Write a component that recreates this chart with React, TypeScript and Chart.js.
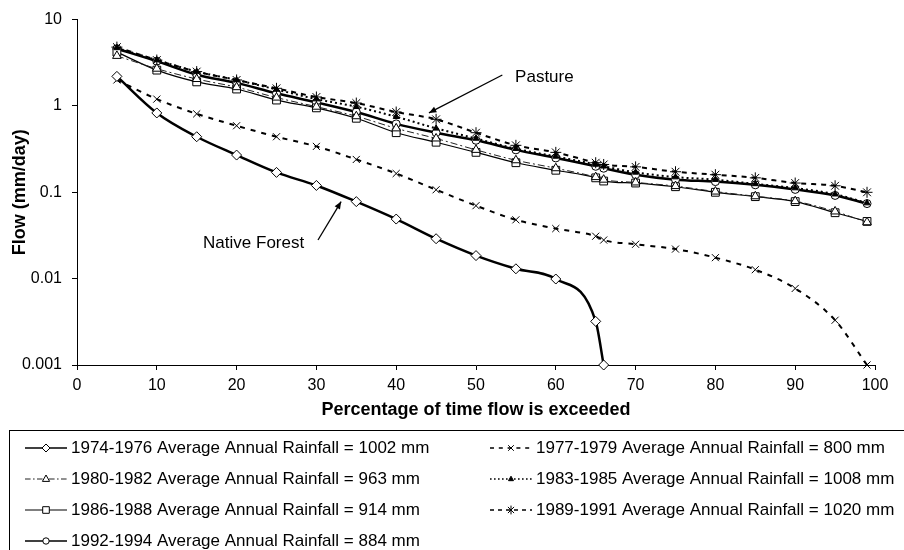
import React, { useEffect, useRef } from 'react';
import { Chart, registerables } from 'chart.js';

Chart.register(...registerables);

// Percentage of time flow is exceeded (x positions of the duration-curve points)
const percentExceeded = [5, 10, 15, 20, 25, 30, 35, 40, 45, 50, 55, 60, 65, 66, 70, 75, 80, 85, 90, 95, 99];

// Flow (mm/day) for each period
const flow1974 = [2.2, 0.83, 0.44, 0.27, 0.17, 0.12, 0.078, 0.049, 0.029, 0.0185, 0.013, 0.0099, 0.0032, 0.001];
const flow1977 = [2.0, 1.2, 0.81, 0.59, 0.44, 0.34, 0.24, 0.165, 0.107, 0.07, 0.048, 0.038, 0.031, 0.028, 0.025, 0.022, 0.0175, 0.0127, 0.0077, 0.0033, 0.001];
const flow1980 = [3.8, 2.7, 2.05, 1.65, 1.25, 0.98, 0.76, 0.55, 0.42, 0.31, 0.235, 0.19, 0.15, 0.14, 0.13, 0.118, 0.102, 0.09, 0.079, 0.06, 0.045];
const flow1983 = [4.7, 3.4, 2.5, 2.0, 1.55, 1.2, 0.98, 0.75, 0.55, 0.42, 0.32, 0.26, 0.21, 0.2, 0.17, 0.15, 0.14, 0.125, 0.112, 0.095, 0.075];
const flow1986 = [4.2, 2.6, 1.9, 1.57, 1.17, 0.95, 0.72, 0.49, 0.38, 0.29, 0.22, 0.18, 0.147, 0.135, 0.128, 0.116, 0.1, 0.089, 0.078, 0.058, 0.046];
const flow1989 = [4.8, 3.4, 2.5, 2.0, 1.6, 1.27, 1.08, 0.85, 0.7, 0.49, 0.35, 0.29, 0.22, 0.21, 0.197, 0.173, 0.16, 0.147, 0.128, 0.119, 0.1];
const flow1992 = [4.6, 3.3, 2.3, 1.85, 1.4, 1.1, 0.85, 0.62, 0.49, 0.4, 0.31, 0.25, 0.2, 0.19, 0.16, 0.14, 0.133, 0.122, 0.108, 0.092, 0.074];

const seriesLabels = [
  '1974-1976 Average Annual Rainfall = 1002 mm',
  '1977-1979 Average Annual Rainfall = 800 mm',
  '1980-1982 Average Annual Rainfall = 963 mm',
  '1983-1985 Average Annual Rainfall = 1008 mm',
  '1986-1988 Average Annual Rainfall = 914 mm',
  '1989-1991 Average Annual Rainfall = 1020 mm',
  '1992-1994 Average Annual Rainfall = 884 mm',
];
const seriesValues = [flow1974, flow1977, flow1980, flow1983, flow1986, flow1989, flow1992];

const yTickValues = [0.001, 0.01, 0.1, 1, 10];
const yTickLabels = ['0.001', '0.01', '0.1', '1', '10'];

const FONT = "'Liberation Sans', Arial, Helvetica, sans-serif";

type Style = { lw: number; dash: number[]; ps: string; r: number; fill: string; color: string };
const styles: Style[] = [
  { lw: 2.5, dash: [], ps: 'rectRot', r: 5, fill: '#fff', color: '#000' },
  { lw: 2, dash: [5, 6], ps: 'crossRot', r: 5, fill: '#fff', color: '#000' },
  { lw: 1, dash: [7, 3, 2, 3], ps: 'triangle', r: 5, fill: '#fff', color: '#222' },
  { lw: 2, dash: [2, 3], ps: 'triangle', r: 3.5, fill: '#000', color: '#000' },
  { lw: 1.2, dash: [], ps: 'rect', r: 5.5, fill: '#fff', color: '#000' },
  { lw: 2, dash: [5, 5], ps: 'star', r: 5.5, fill: '#fff', color: '#000' },
  { lw: 2.5, dash: [], ps: 'circle', r: 4, fill: '#fff', color: '#000' },
];

function drawMarker(ctx: CanvasRenderingContext2D, ps: string, r: number, x: number, y: number, fill: string) {
  ctx.save();
  ctx.setLineDash([]);
  ctx.lineWidth = 1;
  ctx.strokeStyle = '#000';
  ctx.fillStyle = fill;
  ctx.beginPath();
  if (ps === 'rectRot') {
    ctx.moveTo(x, y - r); ctx.lineTo(x + r, y); ctx.lineTo(x, y + r); ctx.lineTo(x - r, y); ctx.closePath();
    ctx.fill(); ctx.stroke();
  } else if (ps === 'rect') {
    ctx.rect(x - r * 0.75, y - r * 0.75, r * 1.5, r * 1.5); ctx.fill(); ctx.stroke();
  } else if (ps === 'triangle') {
    ctx.moveTo(x, y - r); ctx.lineTo(x + r * 0.9, y + r * 0.6); ctx.lineTo(x - r * 0.9, y + r * 0.6); ctx.closePath();
    ctx.fill(); ctx.stroke();
  } else if (ps === 'circle') {
    ctx.arc(x, y, r, 0, Math.PI * 2); ctx.fill(); ctx.stroke();
  } else if (ps === 'crossRot') {
    const d = r * 0.7;
    ctx.moveTo(x - d, y - d); ctx.lineTo(x + d, y + d); ctx.moveTo(x + d, y - d); ctx.lineTo(x - d, y + d); ctx.stroke();
  } else if (ps === 'star') {
    const d = r * 0.7;
    ctx.moveTo(x - d, y - d); ctx.lineTo(x + d, y + d); ctx.moveTo(x + d, y - d); ctx.lineTo(x - d, y + d);
    ctx.moveTo(x, y - r); ctx.lineTo(x, y + r); ctx.stroke();
  }
  ctx.restore();
}

// annotation anchors in data coordinates
const annotations = [
  { text: 'Pasture', tx: 54.9, ty: 2.16, from: [53.3, 2.28], to: [44.1, 0.83] },
  { text: 'Native Forest', tx: 15.8, ty: 0.026, from: [30.2, 0.028], to: [33.1, 0.078] },
];

const annotationPlugin = {
  id: 'annot',
  afterDatasetsDraw(chart: any) {
    const { ctx, scales } = chart;
    const xs = scales.x, ys = scales.y;
    ctx.save();
    ctx.fillStyle = '#000';
    ctx.strokeStyle = '#000';
    ctx.font = `17px ${FONT}`;
    ctx.textBaseline = 'middle';
    ctx.textAlign = 'left';
    for (const a of annotations) {
      ctx.fillText(a.text, xs.getPixelForValue(a.tx), ys.getPixelForValue(a.ty));
      const x1 = xs.getPixelForValue(a.from[0]), y1 = ys.getPixelForValue(a.from[1]);
      const x2 = xs.getPixelForValue(a.to[0]), y2 = ys.getPixelForValue(a.to[1]);
      ctx.lineWidth = 1.3;
      ctx.beginPath();
      ctx.moveTo(x1, y1);
      ctx.lineTo(x2, y2);
      ctx.stroke();
      const ang = Math.atan2(y2 - y1, x2 - x1);
      const L = 8, W = 0.4;
      ctx.beginPath();
      ctx.moveTo(x2, y2);
      ctx.lineTo(x2 - L * Math.cos(ang - W), y2 - L * Math.sin(ang - W));
      ctx.lineTo(x2 - L * Math.cos(ang + W), y2 - L * Math.sin(ang + W));
      ctx.closePath();
      ctx.fill();
    }
    ctx.restore();
  },
};

const legendPlugin = {
  id: 'boxLegend',
  afterDraw(chart: any) {
    const { ctx } = chart;
    ctx.save();
    ctx.strokeStyle = '#000';
    ctx.lineWidth = 1;
    ctx.setLineDash([]);
    ctx.strokeRect(9.5, 430.5, 1000, 300);
    ctx.font = `17px ${FONT}`;
    ctx.textBaseline = 'middle';
    ctx.textAlign = 'left';
    seriesLabels.forEach((label, i) => {
      const s = styles[i];
      const col = i % 2;
      const row = Math.floor(i / 2);
      const x0 = col === 0 ? 25 : 490;
      const y = 448 + row * 31;
      ctx.strokeStyle = s.color;
      ctx.lineWidth = Math.min(s.lw, 1.5);
      ctx.setLineDash(s.dash.map((d) => Math.max(1, d * 0.8)));
      ctx.beginPath();
      ctx.moveTo(x0, y);
      ctx.lineTo(x0 + 42, y);
      ctx.stroke();
      ctx.setLineDash([]);
      drawMarker(ctx, s.ps, s.r * 0.8, x0 + 21, y, s.fill);
      ctx.fillStyle = '#000';
      ctx.fillText(label, x0 + 46, y);
    });
    ctx.restore();
  },
};

export default function App() {
  const ref = useRef<HTMLCanvasElement>(null);
  useEffect(() => {
    if (!ref.current) return;
    const datasets = seriesValues.map((vals, i) => {
      const s = styles[i];
      return {
        label: seriesLabels[i],
        data: vals.map((v, j) => ({ x: percentExceeded[j], y: v })),
        borderColor: s.color,
        borderWidth: s.lw,
        borderDash: s.dash,
        pointStyle: s.ps,
        pointRadius: s.r,
        pointBorderWidth: 1,
        pointBorderColor: '#000',
        pointBackgroundColor: s.fill,
        cubicInterpolationMode: 'monotone',
        fill: false,
        clip: false,
      };
    });
    const chart = new Chart(ref.current, {
      type: 'line',
      data: { datasets: datasets as any },
      plugins: [annotationPlugin, legendPlugin],
      options: {
        animation: false,
        responsive: true,
        maintainAspectRatio: false,
        layout: { padding: { left: 0, right: 29, top: 19, bottom: 125 } },
        plugins: { legend: { display: false }, tooltip: { enabled: false } },
        scales: {
          x: {
            type: 'linear',
            min: 0,
            max: 100,
            ticks: { stepSize: 10, color: '#000', font: { family: FONT, size: 16 }, padding: 6, maxRotation: 0 },
            grid: { drawOnChartArea: false, drawTicks: true, tickLength: 5, color: '#000' },
            border: { color: '#000', width: 1 },
            title: {
              display: true,
              text: 'Percentage of time flow is exceeded',
              color: '#000',
              font: { family: FONT, size: 18, weight: 'bold' },
              padding: { top: 4, bottom: 4 },
            },
            afterFit: (s: any) => { s.height = 60; },
          },
          y: {
            type: 'logarithmic',
            min: 0.001,
            max: 10,
            afterBuildTicks: (s: any) => { s.ticks = yTickValues.map((v) => ({ value: v })); },
            ticks: {
              color: '#000',
              font: { family: FONT, size: 16 },
              padding: 10,
              callback: (v: any) => yTickLabels[yTickValues.indexOf(Number(v))] ?? '',
            },
            grid: { drawOnChartArea: false, drawTicks: true, tickLength: 5, color: '#000' },
            border: { color: '#000', width: 1 },
            title: {
              display: true,
              text: 'Flow (mm/day)',
              color: '#000',
              font: { family: FONT, size: 18, weight: 'bold' },
              padding: { top: 9, bottom: 4 },
            },
            afterFit: (s: any) => { s.width = 77; },
          },
        },
      } as any,
    });
    return () => chart.destroy();
  }, []);
  return (
    <div style={{ position: 'fixed', left: 0, top: 0, width: 904, height: 550, background: '#fff' }}>
      <canvas ref={ref} />
    </div>
  );
}
